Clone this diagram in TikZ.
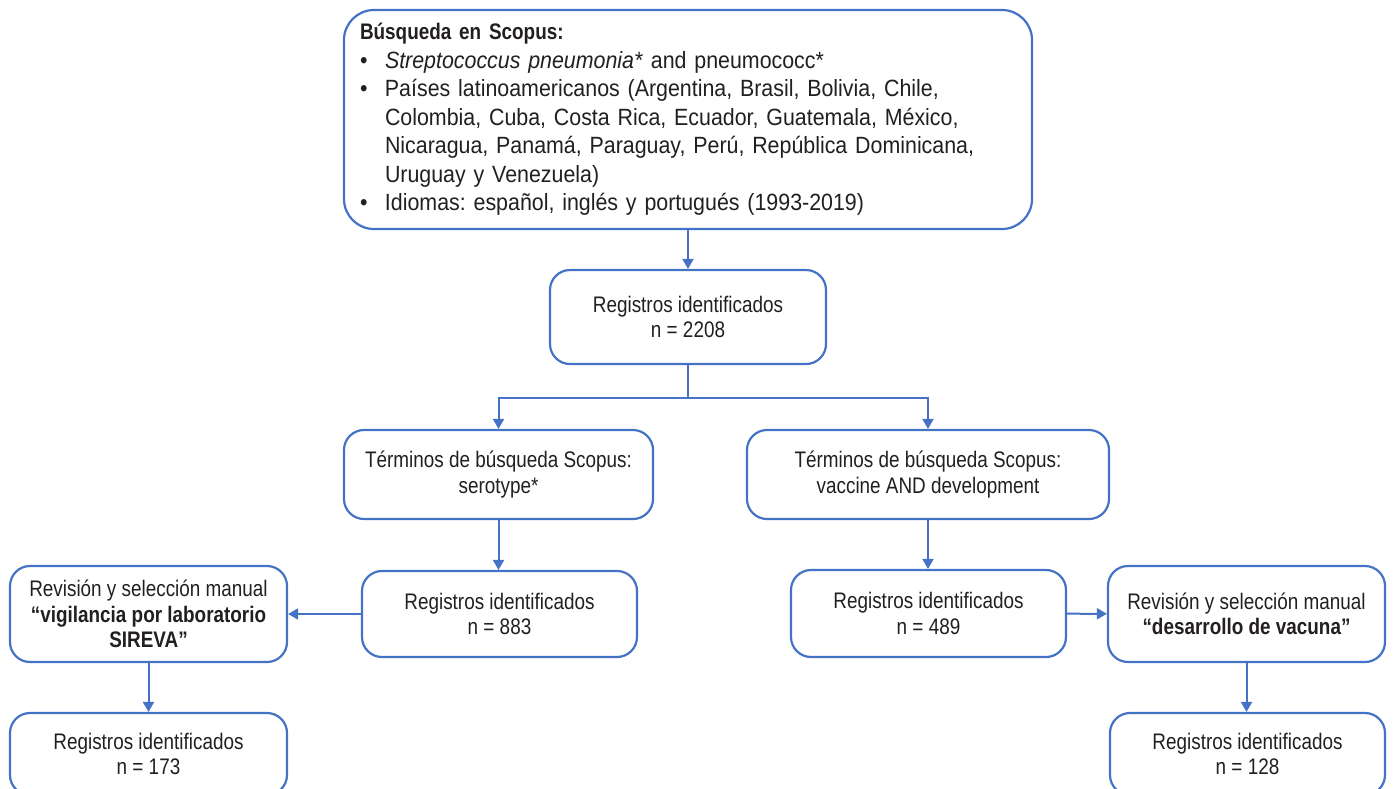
\documentclass[tikz,border=0pt]{standalone}
\usepackage{fontspec}
\setmainfont{Liberation Sans}[FakeStretch=0.84]
\newfontfamily\widefont{Liberation Sans}[FakeStretch=0.91]
\usepackage{xcolor}
\usepackage{tikz}
\usetikzlibrary{arrows.meta}
\definecolor{flowblue}{HTML}{4472C4}
\definecolor{flowtext}{HTML}{231F20}
\frenchspacing
\newcommand{\itm}{\makebox[25pt][l]{•}}
\tikzset{box/.style={rectangle,rounded corners=20pt,draw=flowblue,line width=2.2pt,text=flowtext,align=center,inner sep=0pt,font=\fontsize{22.5}{25.5}\selectfont},
  bigbox/.style={box,rounded corners=30pt,align=left,font=\widefont\fontsize{23.5}{28.5}\selectfont},
  link/.style={flowblue,line width=2pt}}

\begin{document}
\begin{tikzpicture}[x=1pt,y=-1pt,>={Triangle[width=11pt,length=10pt]}]
    \useasboundingbox (0,0) rectangle (1394,788);
    \clip (0,0) rectangle (1394,788);

    \node[bigbox,minimum width=688,minimum height=219,text width=656] (search) at (688,119.5) {{\normalfont\fontsize{22.5}{28.5}\selectfont\bfseries Búsqueda en Scopus:}\\
      \itm\textit{Streptococcus pneumonia*} and pneumococc*\\
      \itm Países latinoamericanos (Argentina, Brasil, Bolivia, Chile,\\
      \hspace*{25pt}Colombia, Cuba, Costa Rica, Ecuador, Guatemala, México,\\
      \hspace*{25pt}Nicaragua, Panamá, Paraguay, Perú, República Dominicana,\\
      \hspace*{25pt}Uruguay y Venezuela)\\
      \itm Idiomas: español, inglés y portugués (1993-2019)};
    \node[box,minimum width=276,minimum height=94] (reg2208) at (688,317) {Registros identificados\\n = 2208};
    \node[box,minimum width=309,minimum height=89] (sero) at (498.5,474.5) {Términos de búsqueda Scopus:\\serotype*};
    \node[box,minimum width=362,minimum height=89] (vacc) at (928,474.5) {Términos de búsqueda Scopus:\\vaccine AND development};
    \node[box,minimum width=275,minimum height=86] (reg883) at (499.5,614) {Registros identificados\\n = 883};
    \node[box,minimum width=275,minimum height=87] (reg489) at (928.5,613.5) {Registros identificados\\n = 489};
    \node[box,minimum width=277,minimum height=96] (revsir) at (148.5,614) {Revisión y selección manual\\\textbf{“vigilancia por laboratorio}\\\textbf{SIREVA”}};
    \node[box,minimum width=277,minimum height=96] (revvac) at (1246.5,614) {Revisión y selección manual\\\textbf{“desarrollo de vacuna”}};
    \node[box,minimum width=277,minimum height=82] (reg173) at (148.5,754) {Registros identificados\\n = 173};
    \node[box,minimum width=275,minimum height=82] (reg128) at (1247.5,754) {Registros identificados\\n = 128};

    \coordinate (fork) at (688,398);

    \draw [->,link] (search) to [] (reg2208);
    \draw [link] (reg2208) to [] (fork);
    \draw [->,link] (fork) -| (sero.north);
    \draw [->,link] (fork) -| (vacc.north);
    \draw [->,link] (sero.south) to [] (sero.south |- reg883.north);
    \draw [->,link] (vacc.south) to [] (vacc.south |- reg489.north);
    \draw [->,link] (reg883) to [] (revsir);
    \draw [->,link] (reg489) to [] (revvac);
    \draw [->,link] (revsir) to [] (reg173);
    \draw [->,link] (revvac.south) to [] (revvac.south |- reg128.north);
\end{tikzpicture}
\end{document}
